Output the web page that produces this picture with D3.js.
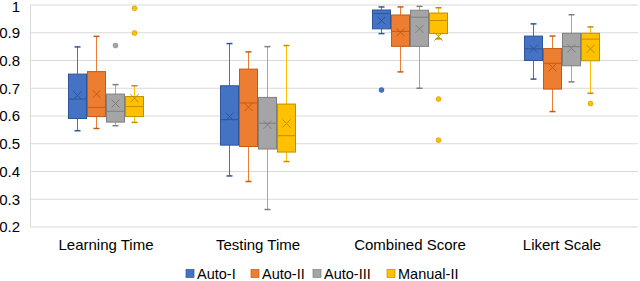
<!DOCTYPE html>
<html>
<head>
<meta charset="utf-8">
<script src="https://cdn.jsdelivr.net/npm/d3@7"></script>
<style>
  body { margin: 0; background: #fff; }
  text { font-family: "Liberation Sans", Arial, sans-serif; fill: #000; }
</style>
</head>
<body>
<div id="chart"></div>
<script>
var categories = ["Learning Time", "Testing Time", "Combined Score", "Likert Scale"];
var seriesNames = ["Auto-I", "Auto-II", "Auto-III", "Manual-II"];
var yTicks = [0.2, 0.3, 0.4, 0.5, 0.6, 0.7, 0.8, 0.9, 1];

// per category: [whisker low, q1, median, q3, whisker high, mean]
var autoI = [
  [0.547, 0.591, 0.661, 0.751, 0.849, 0.674],
  [0.384, 0.495, 0.587, 0.709, 0.861, 0.598],
  [0.897, 0.914, 0.969, 0.982, 0.993, 0.944],
  [0.733, 0.800, 0.842, 0.888, 0.932, 0.842]
];
var autoII = [
  [0.555, 0.598, 0.631, 0.760, 0.887, 0.679],
  [0.364, 0.490, 0.647, 0.769, 0.831, 0.632],
  [0.759, 0.851, 0.905, 0.964, 0.993, 0.902],
  [0.616, 0.697, 0.790, 0.843, 0.888, 0.775]
];
var autoIII = [
  [0.565, 0.578, 0.617, 0.679, 0.713, 0.645],
  [0.263, 0.481, 0.574, 0.667, 0.850, 0.568],
  [0.700, 0.851, 0.956, 0.981, 0.995, 0.914],
  [0.723, 0.781, 0.850, 0.898, 0.965, 0.844]
];
var manualII = [
  [0.577, 0.598, 0.634, 0.670, 0.709, 0.664],
  [0.436, 0.470, 0.529, 0.643, 0.854, 0.573],
  [0.878, 0.897, 0.944, 0.971, 0.990, 0.886],
  [0.682, 0.799, 0.877, 0.898, 0.921, 0.842]
];

// outlier points per category
var outAutoI = [[], [], [0.694], []];
var outAutoII = [[], [], [], []];
var outAutoIII = [[0.854], [], [], []];
var outManualII = [[0.988, 0.899], [], [0.661, 0.513], [0.645]];

var stats = [autoI, autoII, autoIII, manualII];
var outliers = [outAutoI, outAutoII, outAutoIII, outManualII];
var fills = ["#4472C4", "#ED7D31", "#A5A5A5", "#FFC000"];
var strokes = ["#2F5597", "#C55A11", "#7F7F7F", "#BF9000"];

var svgWidth = 640, svgHeight = 281;
var margin = {top: 5, right: 2, bottom: 54, left: 30};
var width = svgWidth - margin.left - margin.right;
var height = svgHeight - margin.top - margin.bottom;

var svg = d3.select("#chart").append("svg")
  .attr("width", svgWidth)
  .attr("height", svgHeight);

var g = svg.append("g")
  .attr("transform", `translate(${margin.left}, ${margin.top})`);

var x = d3.scaleBand().domain(categories).range([0, width]);
var xs = d3.scaleBand().domain(seriesNames).range([0, x.bandwidth()])
  .paddingInner(0).paddingOuter(2);
var y = d3.scaleLinear().domain([0.2, 1]).range([height, 0]);

// gridlines
g.selectAll(".grid").data(yTicks).enter().append("line")
  .attr("x1", 0).attr("x2", width)
  .attr("y1", d => y(d)).attr("y2", d => y(d))
  .attr("stroke", "#d9d9d9").attr("stroke-width", 1);

g.append("line")
  .attr("x1", 0.5).attr("x2", 0.5)
  .attr("y1", 0).attr("y2", height)
  .attr("stroke", "#d9d9d9");

var leftAxis = d3.axisLeft(y).tickValues(yTicks)
  .tickFormat(d => d === 1 ? "1" : d3.format(".1f")(d))
  .tickSize(0).tickPadding(10);
var ya = g.append("g").call(leftAxis);
ya.select(".domain").remove();
ya.selectAll("text").style("font-size", "15px")
  .style("font-family", "'Liberation Sans', Arial, sans-serif").attr("fill", "#000")
  .attr("dy", d => d === 1 ? "0.45em" : "0.32em");

var bottomAxis = d3.axisBottom(x).tickSize(0).tickPadding(12);
var xa = g.append("g").attr("transform", `translate(0, ${height})`).call(bottomAxis);
xa.select(".domain").remove();
xa.selectAll("text").style("font-size", "15px")
  .style("font-family", "'Liberation Sans', Arial, sans-serif").attr("fill", "#000");

var bw = xs.bandwidth() - 1;
var cap = 6;

seriesNames.forEach(function(name, si) {
  var sg = g.append("g");
  var rows = stats[si].map((s, ci) => ({cat: categories[ci], s: s, out: outliers[si][ci]}));
  var grp = sg.selectAll("g").data(rows).enter().append("g")
    .attr("transform", d => `translate(${x(d.cat) + xs(name) + 0.5}, 0)`);
  var cx = bw / 2;

  // whiskers
  grp.append("line").attr("x1", cx).attr("x2", cx)
    .attr("y1", d => y(d.s[4])).attr("y2", d => y(d.s[3]))
    .attr("stroke", fills[si]).attr("stroke-width", 1);
  grp.append("line").attr("x1", cx).attr("x2", cx)
    .attr("y1", d => y(d.s[1])).attr("y2", d => y(d.s[0]))
    .attr("stroke", fills[si]).attr("stroke-width", 1);
  grp.append("line").attr("x1", cx - cap / 2).attr("x2", cx + cap / 2)
    .attr("y1", d => y(d.s[4])).attr("y2", d => y(d.s[4]))
    .attr("stroke", strokes[si]).attr("stroke-width", 1.5);
  grp.append("line").attr("x1", cx - cap / 2).attr("x2", cx + cap / 2)
    .attr("y1", d => y(d.s[0])).attr("y2", d => y(d.s[0]))
    .attr("stroke", strokes[si]).attr("stroke-width", 1.5);

  // box
  grp.append("rect")
    .attr("x", 0).attr("width", bw)
    .attr("y", d => y(d.s[3])).attr("height", d => y(d.s[1]) - y(d.s[3]))
    .attr("fill", fills[si]).attr("stroke", strokes[si]).attr("stroke-width", 1);
  grp.append("line").attr("x1", 0).attr("x2", bw)
    .attr("y1", d => y(d.s[2])).attr("y2", d => y(d.s[2]))
    .attr("stroke", strokes[si]).attr("stroke-width", 1);

  // mean marker
  var m = 4;
  grp.append("path")
    .attr("d", d => `M${cx - m},${y(d.s[5]) - m}L${cx + m},${y(d.s[5]) + m}M${cx - m},${y(d.s[5]) + m}L${cx + m},${y(d.s[5]) - m}`)
    .attr("stroke", strokes[si]).attr("stroke-width", 1).attr("fill", "none");

  // outliers
  grp.selectAll("circle").data(d => d.out).enter().append("circle")
    .attr("cx", cx).attr("cy", d => y(d)).attr("r", 2.5)
    .attr("fill", fills[si]).attr("stroke", strokes[si]).attr("stroke-width", 0.5);
});

// legend
var legendX = [186, 251, 313, 387];
var legend = svg.append("g").attr("transform", "translate(0, 273.5)");
var li = legend.selectAll("g").data(seriesNames).enter().append("g")
  .attr("transform", (d, i) => `translate(${legendX[i]}, 0)`);
li.append("rect").attr("x", 0).attr("y", -4).attr("width", 8).attr("height", 8)
  .attr("fill", (d, i) => fills[i]).attr("stroke", (d, i) => strokes[i]).attr("stroke-width", 0.7);
li.append("text").attr("x", 11).attr("y", 5)
  .style("font-size", "14.5px").text(d => d);
</script>
</body>
</html>
